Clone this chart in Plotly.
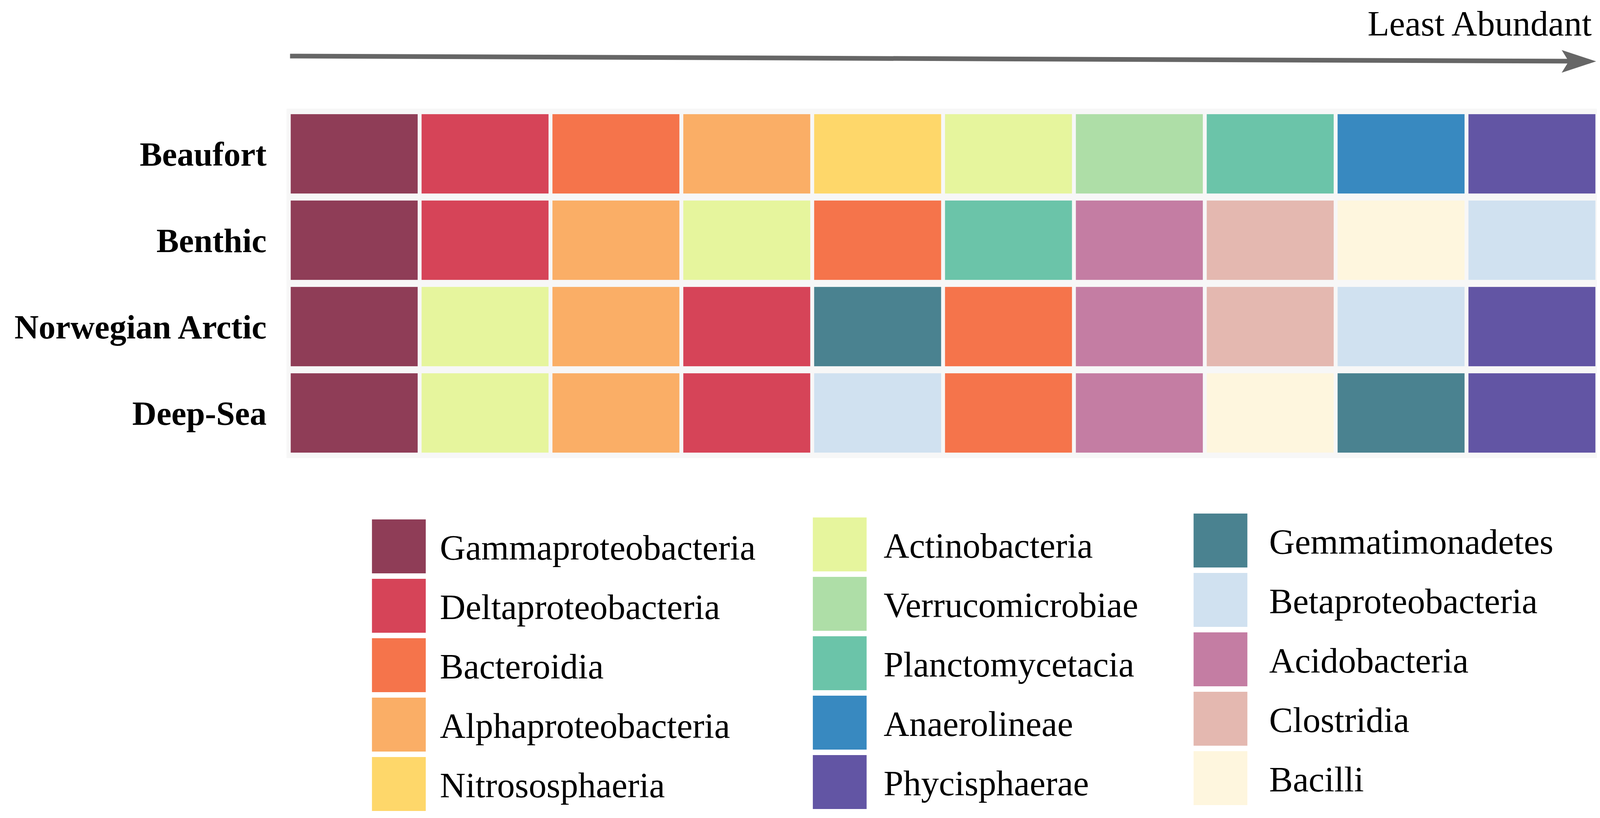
import plotly.graph_objects as go

W, H = 4551, 2093
# the page that gets photographed is ~4096 css px wide and 2093 tall, with an 8px body margin,
# so reference pixels are mapped onto that
VIEW_W = 4096
SX = VIEW_W / W
MARGIN = 8
FIG_W, FIG_H = 4088, 2080

# sites (rows) and abundance rank (columns, most -> least abundant)
sites = ["Beaufort", "Benthic", "Norwegian Arctic", "Deep-Sea"]
ranks = [1, 2, 3, 4, 5, 6, 7, 8, 9, 10]

# classes in legend order, with their colours
classes = ["Gammaproteobacteria", "Deltaproteobacteria", "Bacteroidia", "Alphaproteobacteria",
           "Nitrososphaeria", "Actinobacteria", "Verrucomicrobiae", "Planctomycetacia",
           "Anaerolineae", "Phycisphaerae", "Gemmatimonadetes", "Betaproteobacteria",
           "Acidobacteria", "Clostridia", "Bacilli"]
class_colors = ["#8f3d57", "#d64458", "#f5744b", "#faae66", "#fed76a", "#e6f59d", "#aedea7",
                "#6bc4a9", "#3889c0", "#6255a4", "#4a8290", "#d0e1f0", "#c47da3", "#e4b8b0",
                "#fef6de"]

# top-10 classes per site, by rank
beaufort = ["Gammaproteobacteria", "Deltaproteobacteria", "Bacteroidia", "Alphaproteobacteria",
            "Nitrososphaeria", "Actinobacteria", "Verrucomicrobiae", "Planctomycetacia",
            "Anaerolineae", "Phycisphaerae"]
benthic = ["Gammaproteobacteria", "Deltaproteobacteria", "Alphaproteobacteria", "Actinobacteria",
           "Bacteroidia", "Planctomycetacia", "Acidobacteria", "Clostridia", "Bacilli",
           "Betaproteobacteria"]
norwegian_arctic = ["Gammaproteobacteria", "Actinobacteria", "Alphaproteobacteria",
                    "Deltaproteobacteria", "Gemmatimonadetes", "Bacteroidia", "Acidobacteria",
                    "Clostridia", "Betaproteobacteria", "Phycisphaerae"]
deep_sea = ["Gammaproteobacteria", "Actinobacteria", "Alphaproteobacteria", "Deltaproteobacteria",
            "Betaproteobacteria", "Bacteroidia", "Acidobacteria", "Bacilli", "Gemmatimonadetes",
            "Phycisphaerae"]

site_rows = [beaufort, benthic, norwegian_arctic, deep_sea]


# reference pixel -> paper fraction
def px(x):
    return (x * SX - MARGIN) / FIG_W


def py(y):
    return 1 - (y - MARGIN) / FIG_H


serif = "Liberation Serif, Times New Roman, serif"

# class name -> index, so the heatmap can colour by class
z = [[classes.index(c) for c in row] for row in site_rows]
n = len(classes)
colorscale = [[i / (n - 1), class_colors[i]] for i in range(n)]

fig = go.Figure()

fig.add_trace(go.Heatmap(
    z=z, x=ranks, y=sites,
    colorscale=colorscale, zmin=0, zmax=n - 1,
    showscale=False, xgap=10, ygap=18,
    text=site_rows, hovertemplate="%{y}<br>rank %{x}: %{text}<extra></extra>",
    xaxis="x", yaxis="y",
))

# legend swatches drawn as bars on an axis scaled in reference pixels
sw_left = [1058, 2312, 3395]
sw_top = [1329, 1324, 1314]
sw_w, sw_h, sw_pitch = 153, 138, 152
text_x = [1249, 2511, 3608]

annotations = []
for col in range(3):
    idx = list(range(col * 5, col * 5 + 5))
    xs = [sw_left[col] + sw_w / 2 for _ in idx]
    bases = [sw_top[col] + r * sw_pitch for r in range(5)]
    fig.add_trace(go.Bar(
        x=xs, y=[sw_h] * 5, base=bases, width=sw_w,
        marker=dict(color=[class_colors[i] for i in idx], line=dict(width=0)),
        hovertext=[classes[i] for i in idx], hoverinfo="text",
        xaxis="x2", yaxis="y2", showlegend=False,
    ))
    for r, i in enumerate(idx):
        annotations.append(dict(
            x=text_x[col], y=bases[r] + sw_h / 2 + 3, xref="x2", yref="y2",
            text=classes[i], showarrow=False, xanchor="left", yanchor="middle",
            font=dict(family=serif, size=91, color="#000000"),
        ))

annotations.append(dict(
    x=px(4530), y=1, xref="paper", yref="paper", text="Least Abundant",
    showarrow=False, xanchor="right", yanchor="top",
    font=dict(family=serif, size=91, color="#000000"),
))

shapes = [
    # light grey panel behind the grid
    dict(type="rect", xref="x domain", yref="y domain", x0=0, x1=1, y0=0, y1=1,
         fillcolor="#f7f7f7", line=dict(width=0), layer="below"),
    # arrow shaft and head
    dict(type="line", xref="paper", yref="paper", x0=px(825), y0=py(143.5),
         x1=px(4465), y1=py(156.5), line=dict(color="#666666", width=12)),
    dict(type="path", xref="paper", yref="paper",
         path=f"M {px(4540)} {py(157)} L {px(4442)} {py(128)} L {px(4462)} {py(157)} "
              f"L {px(4442)} {py(186)} Z",
         fillcolor="#666666", line=dict(width=0)),
]

# pixel axis for the legend: paper edges expressed in reference pixels
x2_range = [MARGIN / SX, (FIG_W + MARGIN) / SX]
y2_bottom = FIG_H + MARGIN

fig.update_layout(
    width=FIG_W, height=FIG_H,
    margin=dict(l=0, r=0, t=0, b=0),
    paper_bgcolor="white", plot_bgcolor="white",
    showlegend=False, barmode="overlay",
    xaxis=dict(domain=[px(815), min(px(4548), 1)], range=[0.483, 10.512], visible=False),
    yaxis=dict(domain=[py(1172), py(278)], range=[3.523, -0.523], type="category",
               showgrid=False, zeroline=False, showline=False, ticks="",
               ticklabelstandoff=50,
               tickfont=dict(family=serif, size=86, color="#000000", weight="bold")),
    xaxis2=dict(domain=[0, 1], range=x2_range, visible=False, anchor="y2"),
    yaxis2=dict(domain=[0, py(1290)], range=[y2_bottom, 1290], visible=False, anchor="x2"),
    annotations=annotations,
    shapes=shapes,
)

fig.write_html("out.html")
